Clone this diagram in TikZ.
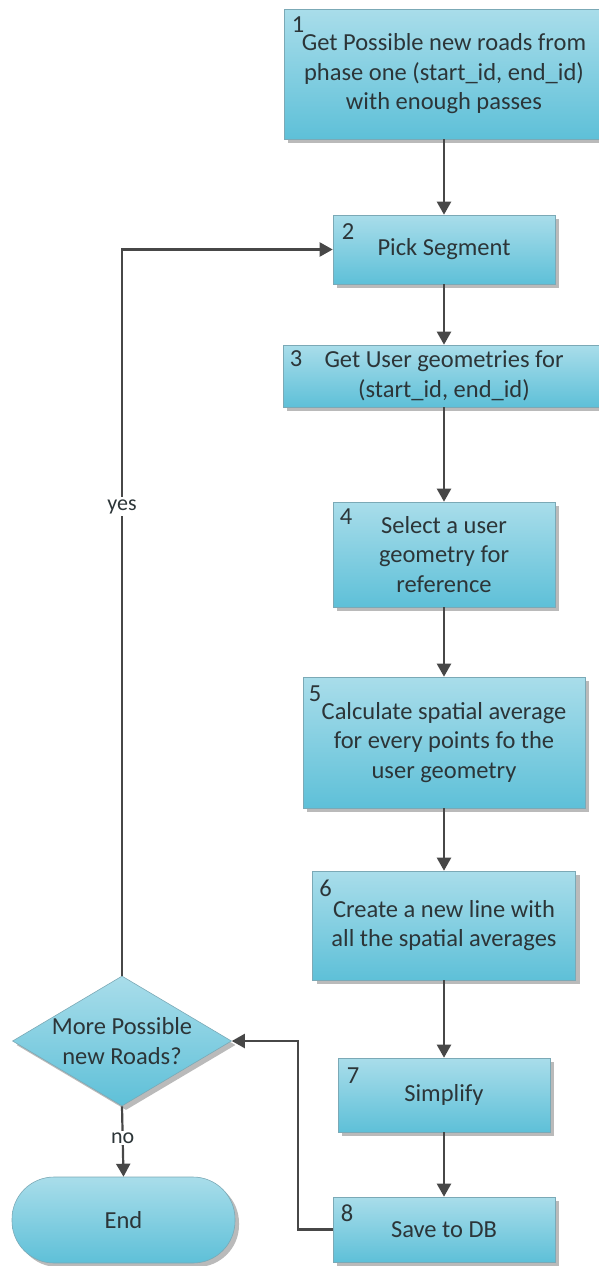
\documentclass[tikz,border=0pt]{standalone}
\usepackage{fontspec}
\setmainfont{Carlito}
\usetikzlibrary{arrows.meta,shapes.geometric,shadows}
\definecolor{boxtop}{HTML}{A9DDEA}
\definecolor{boxbot}{HTML}{5EC0D8}
\definecolor{boxline}{HTML}{7BA9B6}
\definecolor{txt}{HTML}{2C3538}
\definecolor{conn}{HTML}{474747}
\tikzset{
  shp/.style={draw=boxline, line width=0.6pt, top color=boxtop, bottom color=boxbot,
    drop shadow={shadow xshift=4pt, shadow yshift=-4pt, fill=black!45, opacity=0.6}},
  box/.style={shp, rectangle, inner sep=0pt, align=center, text=txt,
    font=\fontsize{24.5}{29.5}\selectfont},
  num/.style={anchor=base west, inner sep=0pt, text=txt, font=\fontsize{24.5}{29.5}\selectfont},
  lbl/.style={fill=white, inner sep=2pt, text=txt, font=\fontsize{22}{26}\selectfont},
  conn/.style={draw=conn, line width=2.2pt, -{Triangle[length=13pt,width=14pt]}},
}
\begin{document}
\begin{tikzpicture}[x=1pt,y=-1pt]
\useasboundingbox (0,0) rectangle (598,1266);
\node[box, minimum width=320pt, minimum height=130pt] (b1) at (444,74)
  {Get Possible new roads from\\phase one (start\_id, end\_id)\\with enough passes};
\node[box, minimum width=222pt, minimum height=69pt] (b2) at (444,249.5) {Pick Segment};
\node[box, minimum width=322pt, minimum height=62pt] (b3) at (444,376)
  {Get User geometries for\\(start\_id, end\_id)};
\node[box, minimum width=222pt, minimum height=105pt] (b4) at (444,554.5)
  {Select a user\\geometry for\\reference};
\node[box, minimum width=282pt, minimum height=131pt] (b5) at (444,742.5)
  {Calculate spatial average\\for every points fo the\\user geometry};
\node[box, minimum width=263pt, minimum height=109pt] (b6) at (444,925.5)
  {Create a new line with\\all the spatial averages};
\node[box, minimum width=212pt, minimum height=74pt] (b7) at (444,1095) {Simplify};
\node[box, minimum width=222pt, minimum height=65pt] (b8) at (444,1229.5) {Save to DB};
\node[shp, diamond, inner sep=0pt, minimum width=219pt, minimum height=130pt, aspect=1.68] (d) at (122,1041) {};
\node[inner sep=0pt, align=center, text=txt, font=\fontsize{24.5}{29.5}\selectfont] (dt) at (d.center) {More Possible\\new Roads?};
\node[box, minimum width=223pt, minimum height=86pt, rounded corners=42pt] (e) at (123.5,1220) {End};
\node[num] (n1) at ([xshift=8pt,yshift=-24pt]b1.north west) {1};
\node[num] (n2) at ([xshift=9pt,yshift=-25pt]b2.north west) {2};
\node[num] (n3) at ([xshift=7pt,yshift=-22pt]b3.north west) {3};
\node[num] (n4) at ([xshift=7pt,yshift=-23pt]b4.north west) {4};
\node[num] (n5) at ([xshift=6pt,yshift=-25pt]b5.north west) {5};
\node[num] (n6) at ([xshift=7pt,yshift=-26pt]b6.north west) {6};
\node[num] (n7) at ([xshift=9pt,yshift=-26pt]b7.north west) {7};
\node[num] (n8) at ([xshift=8pt,yshift=-25pt]b8.north west) {8};
\draw[conn] (b1) -- (b2);
\draw[conn] (b2) -- (b3);
\draw[conn] (b3) -- (b4);
\draw[conn] (b4) -- (b5);
\draw[conn] (b5) -- (b6);
\draw[conn] (b6) -- (b7);
\draw[conn] (b7) -- (b8);
\draw[conn] (d.north) |- (b2.west) node[lbl, pos=0.323] (yes) {yes};
\draw[conn] (d.south) -- (e.north) node[lbl, pos=0.45] (no) {no};
\draw[conn] (b8.west) -- ++(-35,0) |- (d.east);
\end{tikzpicture}
\end{document}
